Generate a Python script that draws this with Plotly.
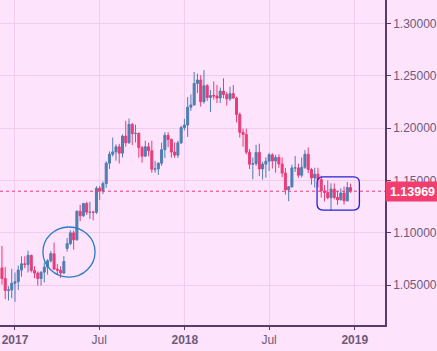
import plotly.graph_objects as go
import pandas as pd

# Weekly EUR/USD-style candles (week start dates)
week_start = "2016-12-04"
n_weeks = 108
opens = [1.0664,1.0562,1.0449,1.0453,1.0517,1.0532,1.0643,1.0703,1.0697,1.0784,1.0639,1.0614,1.0562,1.0623,1.0672,1.0733,1.0800,1.0652,1.0642,1.0615,
         1.0850,1.0896,1.0999,1.0932,1.1206,1.1163,1.1280,1.1196,1.1197,1.1195,1.1426,1.1399,1.1470,1.1665,1.1750,1.1773,1.1822,1.1761,1.1924,1.1860,
         1.2036,1.1948,1.1950,1.1814,1.1732,1.1822,1.1784,1.1607,1.1610,1.1665,1.1794,1.1931,1.1892,1.1772,1.1742,1.1859,1.2005,1.2030,1.2200,1.2222,
         1.2427,1.2460,1.2252,1.2406,1.2293,1.2311,1.2307,1.2288,1.2354,1.2322,1.2280,1.2330,1.2288,1.2130,1.1960,1.1940,1.1770,1.1655,1.1660,1.1768,
         1.1610,1.1656,1.1684,1.1745,1.1686,1.1720,1.1657,1.1570,1.1410,1.1440,1.1620,1.1620,1.1550,1.1625,1.1750,1.1604,1.1524,1.1560,1.1510,1.1400,
         1.1385,1.1335,1.1417,1.1337,1.1315,1.1380,1.1305,1.1432]
highs = [1.0874,1.0672,1.0488,1.0655,1.0620,1.0685,1.0775,1.0775,1.0829,1.0790,1.0679,1.0630,1.0630,1.0714,1.0747,1.0825,1.0906,1.0700,1.0680,1.0777,
         1.0950,1.1023,1.1023,1.1212,1.1268,1.1285,1.1296,1.1296,1.1210,1.1445,1.1445,1.1490,1.1683,1.1777,1.1910,1.1845,1.1850,1.1940,1.2070,1.2092,
         1.2050,1.2034,1.1960,1.1830,1.1880,1.1861,1.1880,1.1688,1.1674,1.1861,1.1961,1.1961,1.1900,1.1863,1.1880,1.2023,1.2089,1.2297,1.2323,1.2537,
         1.2520,1.2507,1.2555,1.2420,1.2365,1.2446,1.2413,1.2388,1.2476,1.2345,1.2396,1.2413,1.2300,1.2150,1.1995,1.1995,1.1800,1.1720,1.1840,1.1852,
         1.1680,1.1720,1.1764,1.1760,1.1745,1.1750,1.1720,1.1620,1.1445,1.1650,1.1734,1.1660,1.1720,1.1790,1.1815,1.1620,1.1621,1.1621,1.1545,1.1456,
         1.1500,1.1473,1.1472,1.1402,1.1425,1.1442,1.1486,1.1470]
lows = [1.0505,1.0366,1.0352,1.0375,1.0340,1.0453,1.0580,1.0660,1.0620,1.0620,1.0565,1.0494,1.0495,1.0525,1.0600,1.0716,1.0650,1.0600,1.0569,1.0606,
        1.0820,1.0880,1.0838,1.0925,1.1110,1.1150,1.1170,1.1132,1.1119,1.1180,1.1312,1.1370,1.1430,1.1610,1.1728,1.1688,1.1662,1.1720,1.1823,1.1850,
        1.1838,1.1862,1.1717,1.1669,1.1730,1.1730,1.1574,1.1575,1.1553,1.1640,1.1715,1.1817,1.1717,1.1715,1.1716,1.1850,1.1978,1.1916,1.2165,1.2215,
        1.2335,1.2206,1.2235,1.2260,1.2154,1.2272,1.2240,1.2240,1.2284,1.2215,1.2260,1.2280,1.2055,1.1910,1.1822,1.1750,1.1610,1.1510,1.1640,1.1541,
        1.1508,1.1527,1.1590,1.1613,1.1574,1.1620,1.1530,1.1365,1.1301,1.1430,1.1582,1.1526,1.1530,1.1610,1.1569,1.1460,1.1432,1.1433,1.1336,1.1300,
        1.1320,1.1216,1.1320,1.1267,1.1310,1.1269,1.1300,1.1380]
closes = [1.0562,1.0449,1.0453,1.0517,1.0532,1.0643,1.0703,1.0697,1.0784,1.0639,1.0614,1.0562,1.0623,1.0672,1.0733,1.0800,1.0652,1.0642,1.0615,1.0725,
          1.0896,1.0999,1.0932,1.1206,1.1163,1.1280,1.1196,1.1197,1.1195,1.1426,1.1399,1.1470,1.1665,1.1750,1.1773,1.1822,1.1761,1.1924,1.1860,1.2036,
          1.1948,1.1950,1.1814,1.1732,1.1822,1.1784,1.1607,1.1610,1.1665,1.1794,1.1931,1.1892,1.1772,1.1742,1.1859,1.2005,1.2030,1.2200,1.2222,1.2427,
          1.2460,1.2252,1.2406,1.2293,1.2311,1.2307,1.2288,1.2354,1.2322,1.2280,1.2330,1.2288,1.2130,1.1960,1.1940,1.1770,1.1655,1.1660,1.1768,1.1610,
          1.1656,1.1684,1.1745,1.1686,1.1720,1.1657,1.1570,1.1410,1.1440,1.1620,1.1620,1.1550,1.1625,1.1750,1.1604,1.1524,1.1560,1.1510,1.1400,1.1385,
          1.1335,1.1417,1.1337,1.1315,1.1380,1.1305,1.1432,1.13969]

last_price = 1.13969
x_tick_vals = ["2017-01-01", "2017-07-01", "2018-01-01", "2018-07-01", "2019-01-01"]
x_tick_text = ["<b>2017</b>", "Jul", "<b>2018</b>", "Jul", "<b>2019</b>"]
y_tick_vals = [1.05, 1.10, 1.15, 1.20, 1.25, 1.30]

# Highlight regions (data coordinates)
circle_x = ["2017-03-02", "2017-06-22"]
circle_y = [1.0576, 1.1055]
rect_x = ["2018-10-12", "2019-01-11"]
rect_y = [1.1217, 1.1535]

x_range = ["2016-11-29 19:00", "2019-03-07"]
y_range = [1.0118, 1.3225]

dates = pd.date_range(week_start, periods=n_weeks, freq="7D")

BG = "#fde3fb"
GRID = "#f3cbee"
AXIS = "#5a3c6c"
LABEL = "#6e5a7c"
BLUE = "#4f7eb0"
PINK = "#e83c78"

fig = go.Figure(go.Candlestick(
    x=dates, open=opens, high=highs, low=lows, close=closes,
    increasing=dict(line=dict(color=BLUE, width=1), fillcolor=BLUE),
    decreasing=dict(line=dict(color=PINK, width=1), fillcolor=PINK),
    whiskerwidth=0, hoverinfo="skip", showlegend=False,
))

# convert rect to paper coords for rounded path
x0r = pd.Timestamp(x_range[0]); x1r = pd.Timestamp(x_range[1])
def px(d):
    return (pd.Timestamp(d) - x0r) / (x1r - x0r)
def py(v):
    return (v - y_range[0]) / (y_range[1] - y_range[0])
W, H = 385.0, 325.0
rx = 6 / W; ry = 6 / H
a, b = px(rect_x[0]), px(rect_x[1])
c, d = py(rect_y[0]), py(rect_y[1])
path = (f"M {a+rx} {c} L {b-rx} {c} Q {b} {c} {b} {c+ry} L {b} {d-ry} Q {b} {d} {b-rx} {d} "
        f"L {a+rx} {d} Q {a} {d} {a} {d-ry} L {a} {c+ry} Q {a} {c} {a+rx} {c} Z")

fig.add_shape(type="path", path=path, xref="paper", yref="paper",
              line=dict(color="#2323d8", width=1.3), fillcolor="rgba(0,0,0,0)")
fig.add_shape(type="circle", xref="x", yref="y",
              x0=circle_x[0], x1=circle_x[1], y0=circle_y[0], y1=circle_y[1],
              line=dict(color="#2a7cc2", width=1.3))
fig.add_shape(type="line", xref="paper", yref="y", x0=0, x1=1, y0=last_price, y1=last_price,
              line=dict(color=PINK, width=1, dash="dot"))

fig.add_annotation(xref="paper", yref="y", x=1, y=last_price, xanchor="left", yanchor="middle",
                   xshift=0, text=f"<b>{last_price:.5f}</b>", showarrow=False,
                   bgcolor="#f23d6e", font=dict(color="white", size=12.5, family="Liberation Sans"),
                   width=49, height=15, borderpad=2, align="center")

fig.update_layout(
    width=437, height=351,
    margin=dict(l=0, r=52, t=0, b=26),
    paper_bgcolor=BG, plot_bgcolor=BG,
    font=dict(family="Liberation Sans", size=12, color=LABEL),
    boxgap=0.12,
    xaxis=dict(range=x_range, type="date", tickvals=x_tick_vals, ticktext=x_tick_text,
               showgrid=True, gridcolor=GRID, gridwidth=1,
               showline=True, linecolor=AXIS, linewidth=1.5,
               ticks="outside", ticklen=3, tickcolor=AXIS,
               rangeslider=dict(visible=False), zeroline=False,
               tickfont=dict(color=LABEL, size=12)),
    yaxis=dict(range=y_range, side="right", tickvals=y_tick_vals, tickformat=".5f",
               showgrid=True, gridcolor=GRID, gridwidth=1,
               showline=True, linecolor=AXIS, linewidth=1.5,
               ticks="outside", ticklen=4, tickcolor=AXIS, zeroline=False,
               tickfont=dict(color=LABEL, size=12)),
)

fig.write_html("out.html")
